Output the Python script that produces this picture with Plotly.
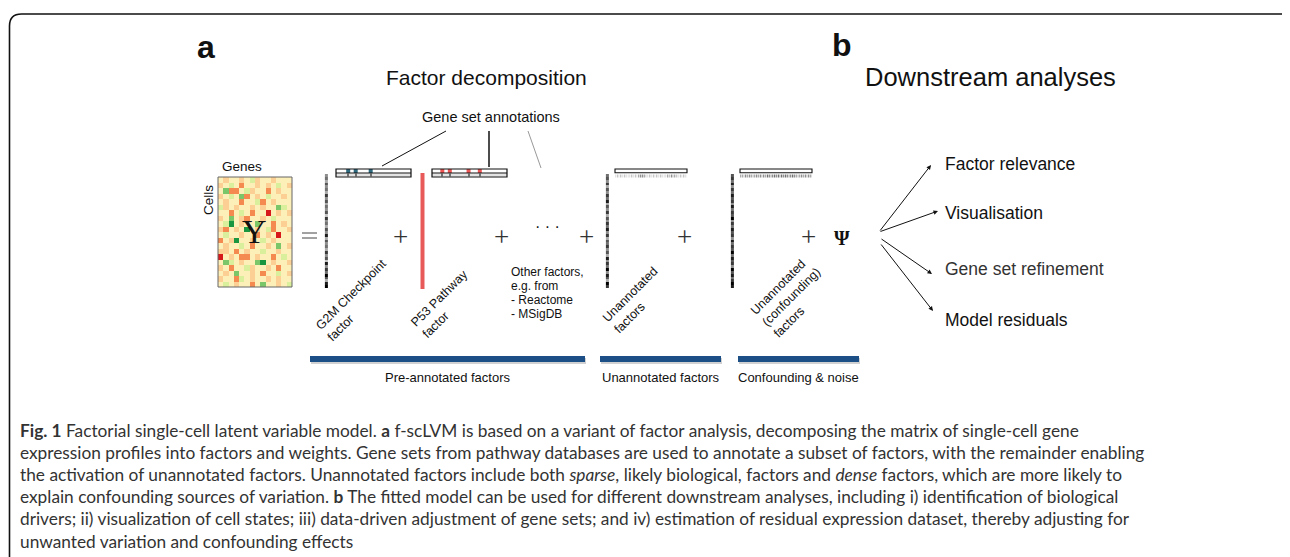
import plotly.graph_objects as go

PAGE_W, PAGE_H = 1290, 557
BODY_MARGIN = 8  # default page margin around the plot div

# ---------------- data ----------------
# expression matrix Y (cells x genes), coded: G dark green ... R dark red
HEATMAP_ROWS = [
    ".o..o.lo..o...",
    "o.l.O..o.o.l.o",
    ".gOO.lo..O.o..",
    "o.l.gO.o.l..o.",
    ".o..O..lO.o...",
    "lo.o..o.o..gl.",
    "..O.l.O..R.o.o",
    "o.g.oO..o.l...",
    ".lG.o..g..O.o.",
    "oO.o.G.o.lO..o",
    ".l..o..O.o.R..",
    "O.oG..o.l.o...",
    ".o..l.O..o.g.o",
    "oo.O.o..l..o..",
    "R.o.OO.o..O.l.",
    ".gl.o..gG.o..o",
    "o.O..lo..o.O..",
    ".o.g..o.O..l.o",
    "o..Ol.o..o.o..",
    ".l.o..O.g..o.l",
]
LEVEL = {"G": -3, "g": -2, "l": -1, ".": 0, "o": 1, "O": 2, "R": 3}

# factor activations (per cell, grey level 0-9)
G2M_COLUMN = "4536453746354627453648364537462847596389"
UNANNOT_COLUMN = "5647364758364736475847365746384759486397"
CONFOUND_COLUMN = "6758475867485769475867485769586749685798"

# gene weights
N_GENES = 40
G2M_SET = [6, 10, 18]
P53_SET = [5, 9, 19, 25]
UNANNOT_ROW = "1212121212121344321212121212132433212121"
CONFOUND_ROW = "3334343434343435454545454545454343434343"

FACTOR_LABELS = ["G2M Checkpoint<br>factor", "P53 Pathway<br>factor",
                 "Unannotated<br>factors", "Unannotated<br>(confounding)<br>factors"]
GROUP_LABELS = ["Pre-annotated factors", "Unannotated factors", "Confounding & noise"]
DOWNSTREAM = ["Factor relevance", "Visualisation", "Gene set refinement", "Model residuals"]
OTHER_FACTORS = ["Other factors,", "e.g. from", "- Reactome", "- MSigDB"]
CAPTION = [
    "<b>Fig. 1</b> Factorial single-cell latent variable model. <b>a</b> f-scLVM is based on a variant of factor analysis, decomposing the matrix of single-cell gene",
    "expression profiles into factors and weights. Gene sets from pathway databases are used to annotate a subset of factors, with the remainder enabling",
    "the activation of unannotated factors. Unannotated factors include both <i>sparse</i>, likely biological, factors and <i>dense</i> factors, which are more likely to",
    "explain confounding sources of variation. <b>b</b> The fitted model can be used for different downstream analyses, including i) identification of biological",
    "drivers; ii) visualization of cell states; iii) data-driven adjustment of gene sets; and iv) estimation of residual expression dataset, thereby adjusting for",
    "unwanted variation and confounding effects",
]

# ---------------- layout geometry ----------------
SANS = "Arial, Liberation Sans, sans-serif"
SERIF = "Liberation Serif, Times New Roman, serif"
CAP_FONT = "Lato, Open Sans, sans-serif"

Y_BOX = (218, 292, 177, 287)           # x0, x1, y0, y1
COLS_X = {"g2m": 326.5, "unann": 607.5, "conf": 732.5}
COL_Y = (174, 288)
COL_W = 3.2
GENE_BARS = {"g2m": (336, 411), "p53": (432, 507)}
GENE_BAR_Y = (169, 177)
TOP_BARS = {"unann": (615, 687), "conf": (740, 812)}
GROUP_BARS = [(310, 585), (600, 721), (738, 859)]
GROUP_BAR_Y = (356, 362)

fig = go.Figure()
shapes = []
ann = []


def edges(a, b, n):
    return [a + (b - a) * i / n for i in range(n + 1)]


# --- Y heatmap
z = [[LEVEL[c] for c in row] for row in HEATMAP_ROWS]
x0, x1, y0, y1 = Y_BOX
fig.add_trace(go.Heatmap(
    z=z, x=edges(x0, x1, len(z[0])), y=edges(y0, y1, len(z)),
    zmin=-3, zmax=3, showscale=False, hoverinfo="skip",
    colorscale=[[0, "#1a9641"], [1 / 6, "#7cc66a"], [2 / 6, "#d9ef9b"], [3 / 6, "#fdefb8"],
                [4 / 6, "#fcd095"], [5 / 6, "#f48a4f"], [1, "#d7191c"]]))
shapes.append(dict(type="rect", x0=x0, x1=x1, y0=y0, y1=y1, line=dict(color="#666", width=1)))

GREYS = [[0, "#ffffff"], [1, "#000000"]]

# --- vertical factor columns
for key, col in [("g2m", G2M_COLUMN), ("unann", UNANNOT_COLUMN), ("conf", CONFOUND_COLUMN)]:
    cx = COLS_X[key]
    fig.add_trace(go.Heatmap(
        z=[[int(c)] for c in col], x=[cx - COL_W / 2, cx + COL_W / 2],
        y=edges(COL_Y[0], COL_Y[1], len(col)), zmin=0, zmax=9,
        colorscale=GREYS, showscale=False, hoverinfo="skip"))

# --- P53 red factor
shapes.append(dict(type="rect", x0=420.5, x1=424.5, y0=173, y1=289,
                   fillcolor="#e85a5a", line=dict(width=0)))

# --- annotated gene-set weight bars
for key, members, colr in [("g2m", G2M_SET, "#2f6b80"), ("p53", P53_SET, "#ee5555")]:
    bx0, bx1 = GENE_BARS[key]
    by0, by1 = GENE_BAR_Y
    ym = (by0 + by1) / 2
    row = [[5 if i in members else 1 for i in range(N_GENES)]]
    fig.add_trace(go.Heatmap(z=row, x=edges(bx0, bx1, N_GENES), y=[ym + 0.5, by1 - 0.5],
                             zmin=0, zmax=9, colorscale=GREYS, showscale=False, hoverinfo="skip"))
    shapes.append(dict(type="rect", x0=bx0, x1=bx1, y0=by0, y1=by1, line=dict(color="#111", width=1.2)))
    shapes.append(dict(type="line", x0=bx0, x1=bx1, y0=ym, y1=ym, line=dict(color="#111", width=1)))
    step = (bx1 - bx0) / N_GENES
    fig.add_trace(go.Scatter(x=[bx0 + (i + 0.5) * step for i in members], y=[ym - 2] * len(members),
                             mode="markers", hoverinfo="skip", showlegend=False,
                             marker=dict(symbol="square", size=4, color=colr, line=dict(width=0))))

# --- unannotated top weight bars
for key, row in [("unann", UNANNOT_ROW), ("conf", CONFOUND_ROW)]:
    bx0, bx1 = TOP_BARS[key]
    shapes.append(dict(type="rect", x0=bx0, x1=bx1, y0=169, y1=172.8, line=dict(color="#111", width=1.1)))
    fig.add_trace(go.Heatmap(z=[[int(c) for c in row]], x=edges(bx0, bx1, len(row)), y=[174.5, 177.5],
                             zmin=0, zmax=9, colorscale=GREYS, showscale=False, hoverinfo="skip",
                             xgap=0.6))

# --- gene set annotation pointers
shapes.append(dict(type="line", x0=446, y0=131, x1=382, y1=166, line=dict(color="#111", width=1)))
shapes.append(dict(type="line", x0=489, y0=131, x1=489, y1=167, line=dict(color="#111", width=1.5)))
shapes.append(dict(type="line", x0=528, y0=131, x1=541, y1=168, line=dict(color="#999", width=1)))

# --- group bars with shadow
for gx0, gx1 in GROUP_BARS:
    shapes.append(dict(type="rect", x0=gx0 + 1, x1=gx1 + 1, y0=GROUP_BAR_Y[0] + 2, y1=GROUP_BAR_Y[1] + 2,
                       fillcolor="rgba(0,0,0,0.18)", line=dict(width=0)))
    shapes.append(dict(type="rect", x0=gx0, x1=gx1, y0=GROUP_BAR_Y[0], y1=GROUP_BAR_Y[1],
                       fillcolor="#1c4f86", line=dict(width=0)))

# --- "=" sign
for yy in (233, 238):
    shapes.append(dict(type="line", x0=302, x1=317, y0=yy, y1=yy, line=dict(color="#444", width=1)))

# --- outer rounded frame
shapes.append(dict(type="path", path="M 9.5,620 L 9.5,26 Q 9.5,14 21.5,14 L 1281,14 Q 1289,14 1292,22",
                   line=dict(color="#111", width=1.6)))


def text(x, y, s, size, color="#111", family=SANS, **kw):
    d = dict(x=x, y=y, text=s, showarrow=False, font=dict(size=size, color=color, family=family),
             xanchor=kw.pop("xanchor", "center"), yanchor=kw.pop("yanchor", "middle"))
    d.update(kw)
    ann.append(d)


# titles
text(206, 47, "<b>a</b>", 32)
text(842, 45, "<b>b</b>", 32)
text(486, 77, "Factor decomposition", 21)
text(990, 77, "Downstream analyses", 25.5)
text(491, 117, "Gene set annotations", 14.5)

# Y heatmap labels
text(242, 166, "Genes", 13.5)
text(208, 200, "Cells", 13.5, textangle=-90)
text(254, 231, "Y", 34, family=SERIF)

# plus signs and dots
for px in (400, 501, 586, 684, 808):
    text(px, 237, "+", 27, color="#333", family=SERIF)
text(547, 226, "· · ·", 16)
text(842, 238, "<b>Ψ</b>", 20, family=SERIF)

# other factors
for i, s in enumerate(OTHER_FACTORS):
    text(509, 272 + 14 * i, s, 12, xanchor="left")

# rotated factor labels
for (cx, cy), s in zip([(357, 300), (445, 304), (636, 300), (791, 297)], FACTOR_LABELS):
    text(cx, cy, s, 12.5, textangle=-45, align="left")

# group labels
for (gx0, gx1), s in zip(GROUP_BARS, GROUP_LABELS):
    text((gx0 + gx1) / 2, 377, s, 13)

# downstream arrows + labels
ARROWS = [((879, 232), (931, 165)), ((879, 232), (938, 211)),
          ((880, 238), (932, 274)), ((880, 243), (933, 311))]
for (tx, ty), (hx, hy) in ARROWS:
    ann.append(dict(x=hx, y=hy, ax=tx, ay=ty, axref="x", ayref="y", xref="x", yref="y",
                    showarrow=True, arrowhead=2, arrowsize=0.9, arrowwidth=1, arrowcolor="#111",
                    text=""))
for (ly, col), s in zip([(164, "#111"), (213, "#111"), (269, "#333"), (320, "#111")], DOWNSTREAM):
    text(943, ly, s, 17.5, color=col, xanchor="left")

# caption
for i, s in enumerate(CAPTION):
    text(18, 430 + 22.2 * i, s, 17.3, color="#333", family=CAP_FONT, xanchor="left")

for a in ann:
    a.setdefault("xref", "x")
    a.setdefault("yref", "y")

# the plot div sits BODY_MARGIN px inside the page, so the axes are offset to keep
# axis units equal to page pixels
fig.update_layout(
    width=PAGE_W - BODY_MARGIN, height=PAGE_H - BODY_MARGIN, margin=dict(l=0, r=0, t=0, b=0),
    paper_bgcolor="white", plot_bgcolor="white", showlegend=False,
    xaxis=dict(range=[BODY_MARGIN, PAGE_W], visible=False, fixedrange=True),
    yaxis=dict(range=[PAGE_H, BODY_MARGIN], visible=False, fixedrange=True),
    shapes=shapes, annotations=ann,
)
fig.write_html("out.html")
